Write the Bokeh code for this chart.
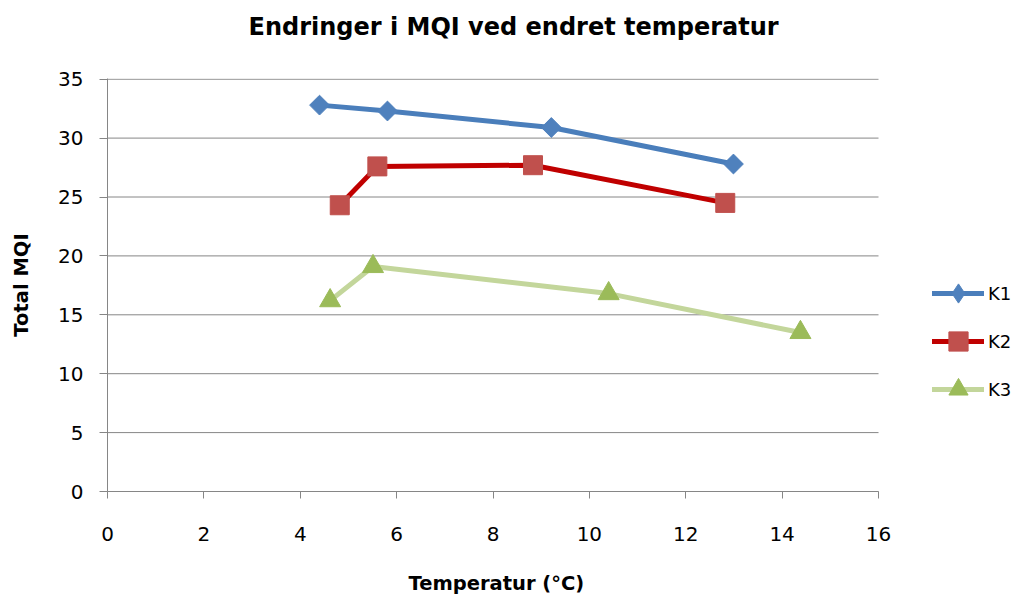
import math
from bokeh.plotting import figure
from bokeh.models import Range1d, FixedTicker, Legend, LegendItem, Title
from bokeh.embed import file_html
from bokeh.resources import INLINE

# Data
k1_temp = [4.40, 5.81, 9.21, 12.99]
k1_mqi = [32.8, 32.3, 30.9, 27.8]
k2_temp = [4.82, 5.60, 8.83, 12.82]
k2_mqi = [24.3, 27.6, 27.7, 24.5]
k3_temp = [4.62, 5.51, 10.40, 14.38]
k3_mqi = [16.2, 19.1, 16.8, 13.5]
series_names = ["K1", "K2", "K3"]
x_ticks = [0, 2, 4, 6, 8, 10, 12, 14, 16]
y_ticks = [0, 5, 10, 15, 20, 25, 30, 35]

FONT = "DejaVu Sans"
GRID = "#868686"

W, H = 1013, 599
LEFT, TOP, BOTTOM = 107, 78, 108
PLOT_W = 771                      # width of the 0..16 axis in px
FRAME_W = W - LEFT                # frame extends under the legend
x_end = x_ticks[-1] * FRAME_W / PLOT_W

p = figure(width=W, height=H, output_backend="svg", toolbar_location=None,
           x_range=Range1d(0, x_end), y_range=Range1d(0, y_ticks[-1] + 0.06),
           min_border_left=LEFT, min_border_right=0, min_border_top=TOP,
           min_border_bottom=BOTTOM)
p.outline_line_color = None
p.background_fill_color = "white"
p.border_fill_color = "white"

# spacer (closest to frame) then real title
p.add_layout(Title(text=" ", text_font_size="1px", standoff=24), "above")
p.add_layout(Title(text="Endringer i MQI ved endret temperatur", align="left",
                   text_font=FONT, text_font_size="24px", text_font_style="bold",
                   text_color="black", standoff=21, offset=141), "above")

# axes
p.xaxis.ticker = FixedTicker(ticks=x_ticks)
p.yaxis.ticker = FixedTicker(ticks=y_ticks)
p.xaxis.bounds = (x_ticks[0], x_ticks[-1])
for ax in (p.xaxis[0], p.yaxis[0]):
    ax.axis_line_color = GRID
    ax.major_tick_line_color = GRID
    ax.minor_tick_line_color = None
    ax.major_tick_in = 0
    ax.major_label_text_font = FONT
    ax.major_label_text_font_size = "20px"
    ax.major_label_text_color = "black"
    ax.axis_label_text_font = FONT
    ax.axis_label_text_font_size = "19.5px"
    ax.axis_label_text_font_style = "bold"
    ax.axis_label_text_color = "black"
p.xaxis.major_tick_out = 7
p.yaxis.major_tick_out = 8
p.xaxis.major_label_standoff = 28
p.yaxis.major_label_standoff = 16
p.yaxis.axis_label = "Total MQI"
p.yaxis.axis_label_standoff = 22

# x-axis label as a "below" title (after a spacer) so it can sit under the 0..16 span
p.add_layout(Title(text=" ", text_font_size="1px", standoff=25), "below")
p.add_layout(Title(text="Temperatur (°C)", align="left", vertical_align="top",
                   text_font=FONT, text_font_size="19.5px", text_font_style="bold",
                   text_color="black", standoff=0, offset=301), "below")

p.xgrid.grid_line_color = None
p.ygrid.grid_line_color = None
# horizontal gridlines limited to the 0..16 axis span
p.segment(x0=[x_ticks[0]] * len(y_ticks), x1=[x_ticks[-1]] * len(y_ticks),
          y0=y_ticks, y1=y_ticks, line_color=GRID, line_width=1)

# series
l1 = p.line(k1_temp, k1_mqi, line_color="#4A7EBB", line_width=5,
            line_join="round", line_cap="round")
m1 = p.scatter(k1_temp, k1_mqi, marker="square", size=14, angle=math.pi / 4,
               fill_color="#4F81BD", line_color="#4F81BD")
m1_leg = p.scatter(x=[float("nan")], y=[float("nan")], marker="diamond",
                   fill_color="#4F81BD", line_color="#4F81BD")
l2 = p.line(k2_temp, k2_mqi, line_color="#C00000", line_width=5,
            line_join="round", line_cap="round")
m2 = p.scatter(k2_temp, k2_mqi, marker="square", size=19,
               fill_color="#C0504D", line_color="#C0504D")
l3 = p.line(k3_temp, k3_mqi, line_color="#C3D69B", line_width=5,
            line_join="round", line_cap="round")
m3 = p.scatter(k3_temp, k3_mqi, marker="triangle", size=21,
               fill_color="#9BBB59", line_color="#9BBB59")

legend = Legend(items=[LegendItem(label=series_names[0], renderers=[l1, m1_leg]),
                       LegendItem(label=series_names[1], renderers=[l2, m2]),
                       LegendItem(label=series_names[2], renderers=[l3, m3])],
                location=(825, 78), orientation="vertical",
                glyph_width=52, glyph_height=48, label_height=20,
                label_standoff=4, spacing=0, padding=0, margin=0,
                label_text_font=FONT, label_text_font_size="18px", label_text_color="black",
                border_line_color=None, background_fill_alpha=0)
p.add_layout(legend, "center")

open("out.html", "w").write(file_html(p, INLINE))
